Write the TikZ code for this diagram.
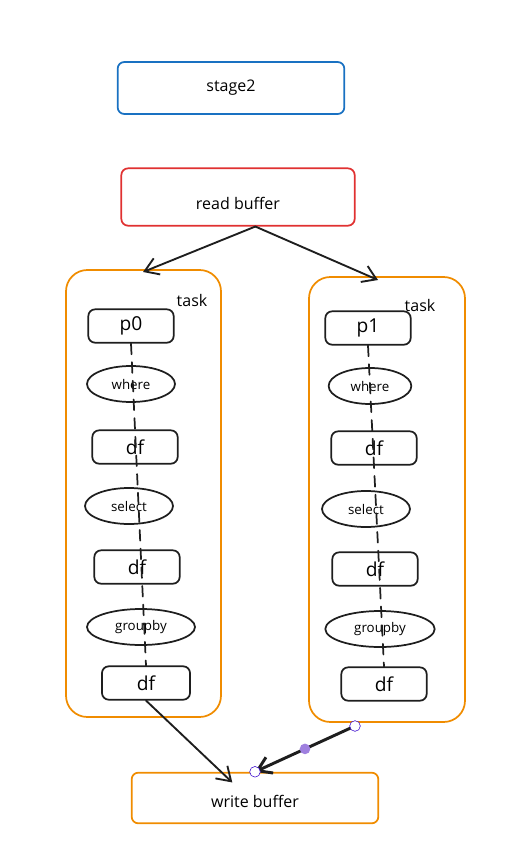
\documentclass[tikz,border=0pt]{standalone}
\usepackage{fontspec}
\setmainfont{Open Sans}
\usetikzlibrary{arrows.meta}
\usetikzlibrary{positioning}
\usetikzlibrary{shapes.geometric}
\usetikzlibrary{calc}
\definecolor{stage blue}{RGB}{25,113,194}
\definecolor{read red}{RGB}{224,49,49}
\definecolor{task orange}{RGB}{240,140,0}
\definecolor{ink}{RGB}{30,30,30}
\tikzstyle{box}=[draw=ink,line width=1.3pt,rounded corners=5pt,inner sep=1pt]
\tikzstyle{op}=[draw=ink,line width=1.3pt,ellipse,inner sep=0pt]
\tikzstyle{handle}=[draw=blue!60!violet,fill=white,circle,thin,minimum size=8pt,inner sep=0pt]

\begin{document}
\begin{tikzpicture}[
  x=0.75pt,y=-0.75pt,
  line cap=round,
  flow/.style={draw=ink,line width=1.4pt,-{Straight Barb[length=10pt,width=13pt]}},
  group/.style={draw=task orange,line width=1.3pt,rounded corners=16pt},
  small box/.style={box,minimum width=64pt,minimum height=25pt,font=\Large},
  small op/.style={op,minimum height=27pt,font=\normalsize},
]
  \useasboundingbox (0,0) rectangle (531,853);
  % stage header
  \node[box,draw=stage blue,minimum width=170pt,minimum height=39pt,font=\large] (stage) at (231,88) {stage2};
  \node[box,draw=read red,minimum width=175pt,minimum height=43pt,font=\large,text height=21pt,text depth=2.4pt] (read) at (238,197) {read buffer};
  \node[box,draw=task orange,minimum width=185pt,minimum height=38pt,font=\large,text height=16.4pt,text depth=2.4pt] (write) at (255,798) {write buffer};

  % the two tasks
  \draw[group] (66,270) rectangle (221,717);
  \draw[group] (309,277) rectangle (465,722);
  \node[font=\large] (tl) at (192,300) {task};
  \node[font=\large] (tr) at (420,305) {task};
  \coordinate (L) at (143,272);
  \coordinate (R) at (378,280);
  \coordinate (RB) at (355,726);

  % left task
  \node[small box] (p0) at (131,326) {p0};
  \node[small op,minimum width=66pt] (w0) at (131,384) {where};
  \node[small box] (d1) at (135,447) {df};
  \node[small op,minimum width=66pt] (s0) at (129,506) {select};
  \node[small box] (d2) at (137,567) {df};
  \node[small op,minimum width=81pt] (g0) at (141,627) {groupby};
  \node[small box,minimum width=66pt] (d3) at (146,683) {df};

  % right task
  \node[small box] (p1) at (368,328) {p1};
  \node[small op,minimum width=62pt] (w1) at (370,386) {where};
  \node[small box] (e1) at (374,448) {df};
  \node[small op,minimum width=66pt] (s1) at (366,509) {select};
  \node[small box] (e2) at (375,569) {df};
  \node[small op,minimum width=82pt] (g1) at (380,629) {groupby};
  \node[small box] (e3) at (384,684) {df};

  \draw[draw=ink,line width=1.3pt,dash pattern=on 8pt off 6pt] (p0.south) -- (d3.north);
  \draw[draw=ink,line width=1.3pt,dash pattern=on 8pt off 6pt] (p1.south) -- (e3.north);

  % connectors
  \draw[flow] ([xshift=13pt]read.south) -- (L);
  \draw[flow] ([xshift=13pt]read.south) -- (R);
  \draw[flow] (d3.south) -- ([xshift=-17pt,yshift=-8pt]write.north);
  \draw[flow,line width=2.2pt] (RB) -- (write.north);
  \node[handle] (h1) at (RB) {};
  \node[handle] (h2) at (write.north) {};
  \node[circle,fill=blue!50!violet!50,minimum size=8pt,inner sep=0pt] (h3) at ($(h1)!0.5!(h2)$) {};
\end{tikzpicture}
\end{document}
